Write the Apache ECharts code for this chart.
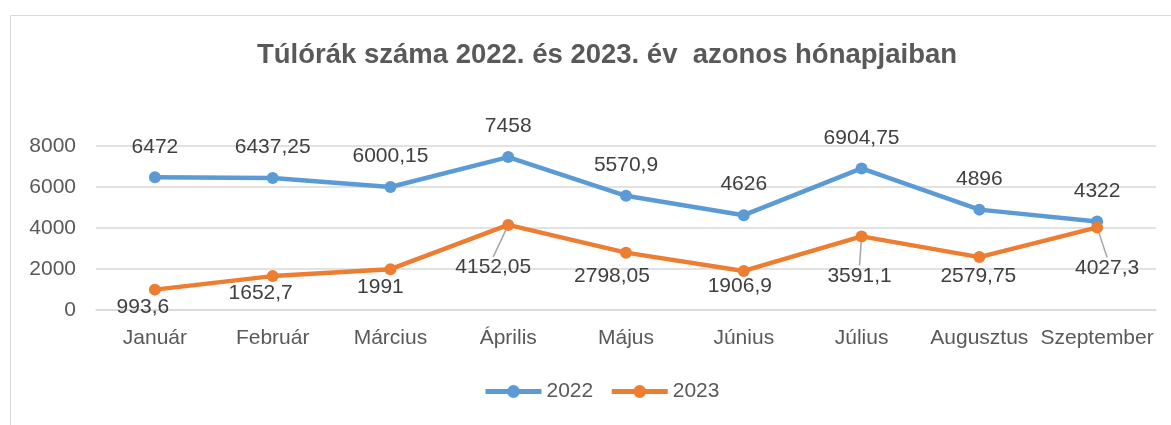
<!DOCTYPE html>
<html>
<head>
<meta charset="utf-8">
<script src="https://cdn.jsdelivr.net/npm/echarts@6/dist/echarts.min.js"></script>
<style>
  html, body { margin: 0; padding: 0; background: #fff; }
  #chart { width: 1171px; height: 425px; }
</style>
</head>
<body>
<div id="chart"></div>
<script>
const months = ['Január', 'Február', 'Március', 'Április', 'Május', 'Június', 'Július', 'Augusztus', 'Szeptember'];
const values2022 = [6472, 6437.25, 6000.15, 7458, 5570.9, 4626, 6904.75, 4896, 4322];
const values2023 = [993.6, 1652.7, 1991, 4152.05, 2798.05, 1906.9, 3591.1, 2579.75, 4027.3];
const yTicks = [0, 2000, 4000, 6000, 8000];

// label nudges for the 2023 series (Excel moved some of them by hand)
const shift2023 = [[-12, -4], [-12, -4], [-10, -3], [-15, 21], [-14, 2], [-4, -6], [-2, 18], [-1, -2], [10, 19]];
const leader2023 = [false, false, false, true, false, false, true, false, true];

const FONT = 'Liberation Sans';
const fmt = function (v) { return String(v).replace('.', ','); };

document.addEventListener('DOMContentLoaded', function () {
    const chart = echarts.init(document.getElementById('chart'));

    const option = {
        animation: false,
        textStyle: { fontFamily: FONT },
        graphic: [{
            type: 'rect',
            left: 8, top: 13,
            shape: { width: 1300, height: 600 },
            style: { fill: 'none', stroke: '#d9d9d9', lineWidth: 1 },
            silent: true
        }],
        title: {
            text: 'Túlórák száma 2022. és 2023. év  azonos hónapjaiban',
            left: 252,
            top: 36,
            textStyle: { fontFamily: FONT, fontSize: 27.5, fontWeight: 'bold', color: '#595959' }
        },
        legend: {
            bottom: 18,
            left: 478,
            itemWidth: 56,
            itemHeight: 16,
            itemGap: 16,
            textStyle: { fontFamily: FONT, fontSize: 21, color: '#595959' },
            lineStyle: { width: 5 },
            data: ['2022', '2023']
        },
        grid: { left: 96, right: 15, top: 146, bottom: 115 },
        xAxis: {
            type: 'category',
            data: months,
            axisLine: { show: true, lineStyle: { color: '#d9d9d9', width: 1.5 } },
            axisTick: { show: false },
            axisLabel: { fontFamily: FONT, fontSize: 21, color: '#595959', margin: 18, interval: 0 }
        },
        yAxis: {
            type: 'value',
            min: yTicks[0],
            max: yTicks[yTicks.length - 1],
            interval: yTicks[1] - yTicks[0],
            axisLine: { show: false },
            axisTick: { show: false },
            splitLine: { lineStyle: { color: '#d9d9d9', width: 1.5 } },
            axisLabel: {
                fontFamily: FONT, fontSize: 21, color: '#595959', margin: 20,
                formatter: function (v) { return String(v); }
            }
        },
        series: [
            {
                name: '2022',
                type: 'line',
                data: values2022,
                color: '#5b9bd5',
                symbol: 'circle',
                symbolSize: 12,
                lineStyle: { width: 4.5 },
                label: {
                    show: true,
                    position: 'top',
                    distance: 14,
                    fontSize: 21,
                    color: '#404040',
                    formatter: function (p) { return fmt(p.value); }
                }
            },
            {
                name: '2023',
                type: 'line',
                data: values2023.map(function (v, i) {
                    return { value: v, labelLine: { show: leader2023[i] } };
                }),
                color: '#ed7d31',
                symbol: 'circle',
                symbolSize: 12,
                lineStyle: { width: 4.5 },
                label: {
                    show: true,
                    position: 'bottom',
                    distance: 5,
                    fontSize: 21,
                    color: '#404040',
                    formatter: function (p) { return fmt(p.value); }
                },
                labelLine: { show: false, lineStyle: { color: '#a6a6a6', width: 1.5 } },
                labelLayout: function (p) {
                    const s = shift2023[p.dataIndex];
                    return { dx: s[0], dy: s[1] };
                }
            }
        ]
    };

    chart.setOption(option);
    window.addEventListener('resize', function () { chart.resize(); });
});
</script>
</body>
</html>
